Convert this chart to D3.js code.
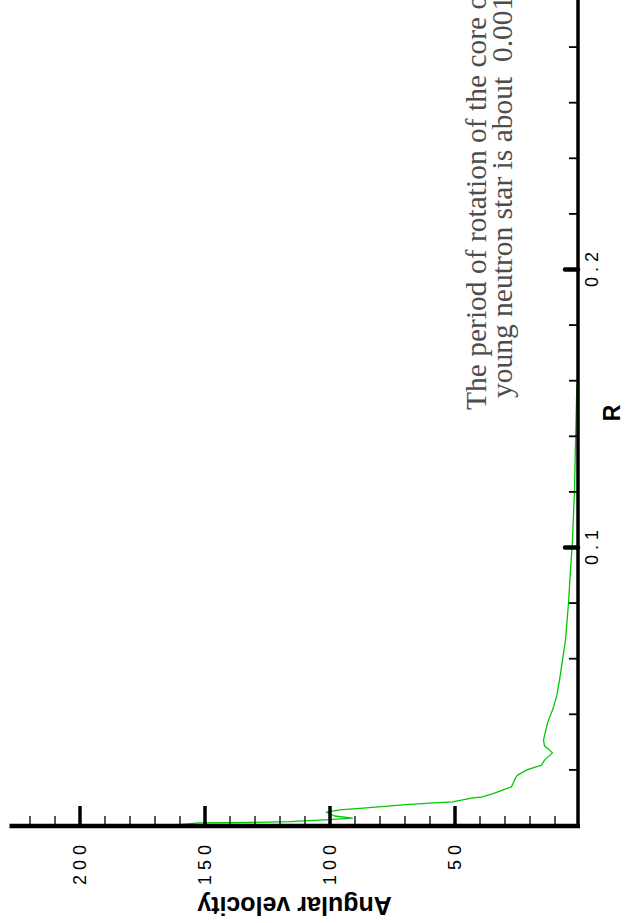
<!DOCTYPE html>
<html>
<head>
<meta charset="utf-8">
<script src="https://cdn.jsdelivr.net/npm/d3@7"></script>
<style>
  html, body { margin: 0; padding: 0; background: #fff; }
  svg { display: block; }
</style>
</head>
<body>
<svg id="chart" width="625" height="923"></svg>
<script>
// Angular velocity of the core against radius R
const radius = [0.0002, 0.0011, 0.00126, 0.0016, 0.0023, 0.0028, 0.0036, 0.0050, 0.0058, 0.0066,
                0.0076, 0.0082, 0.0087, 0.0100, 0.0105, 0.0118, 0.0129, 0.0141, 0.0173, 0.0183,
                0.0203, 0.0219, 0.0237, 0.0263, 0.0273, 0.0288, 0.0309, 0.0371, 0.0417, 0.0464,
                0.0525, 0.0597, 0.0669, 0.0802, 0.0921, 0.1029, 0.1209, 0.1378, 0.1532, 0.1586];
const omega  = [164, 152, 132, 116, 100, 90.8, 98, 101.2, 96, 84,
                70.8, 60, 50.8, 43.2, 38.8, 34, 30.8, 27.2, 25.6, 24.8,
                20.8, 15.2, 14, 10.8, 12, 14, 14.4, 12.8, 10.8, 9.2,
                8, 6.8, 5.6, 4.4, 3.6, 2.8, 2, 1.6, 1.2, 1.0];

const rMajorTicks = [0.1, 0.2];
const rMinorTicks = [0.02, 0.04, 0.06, 0.08, 0.12, 0.14, 0.16, 0.18, 0.22, 0.24, 0.26, 0.28];
const wMajorTicks = [50, 100, 150, 200];
const wMinorTicks = [10, 20, 30, 40, 60, 70, 80, 90, 110, 120, 130, 140, 160, 170, 180, 190, 210, 220];

const xTitle = "R";
const yTitle = "Angular velocity";
const noteLines = ["The period of rotation of the core of",
                   "young neutron star is about  0.001 s"];

const W = 923, H = 625;           // plot frame before turning it on its side
const svg = d3.select("#chart");
const g = svg.append("g").attr("transform", `translate(0,${W}) rotate(-90)`);

const xR = d3.scaleLinear().domain([0, (W - 97) / 2780]).range([97, W]);
const yW = d3.scaleLinear().domain([0, 228]).range([579.5, 9.5]);

const axisY0 = 578;   // position of the R axis
const axisX0 = 97;    // position of the angular-velocity axis

// curve
const pts = radius.map((r, i) => ({ r, w: omega[i] }));
g.append("path")
  .datum(pts)
  .attr("fill", "none")
  .attr("stroke", "#00c800")
  .attr("stroke-width", 1.3)
  .attr("stroke-linejoin", "round")
  .attr("d", d3.line().x(d => xR(d.r)).y(d => yW(d.w)));

// R axis: minor then major ticks, pointing inward
const rMinor = g.append("g").attr("transform", `translate(0,${axisY0})`)
  .call(d3.axisBottom(xR).tickValues(rMinorTicks).tickSize(-9).tickFormat(""));
rMinor.select(".domain").remove();
rMinor.selectAll("line").attr("stroke", "#000").attr("stroke-width", 1.8);

const rMajor = g.append("g").attr("transform", `translate(0,${axisY0})`)
  .call(d3.axisBottom(xR).tickValues(rMajorTicks).tickSize(-13).tickPadding(7)
        .tickFormat(d3.format(".1f")));
rMajor.select(".domain").remove();
rMajor.selectAll("line").attr("stroke", "#000").attr("stroke-width", 4.5).attr("stroke-linecap", "round");
rMajor.selectAll("text")
  .attr("fill", "#000")
  .attr("font-family", "'Liberation Sans', Arial, sans-serif")
  .attr("font-size", 18)
  .attr("letter-spacing", 5)
  .attr("dx", 2.5);

// angular-velocity axis
const wMinor = g.append("g").attr("transform", `translate(${axisX0},0)`)
  .call(d3.axisLeft(yW).tickValues(wMinorTicks).tickSize(-10).tickFormat(""));
wMinor.select(".domain").remove();
wMinor.selectAll("line").attr("stroke", "#222").attr("stroke-width", 1.5);

const wMajor = g.append("g").attr("transform", `translate(${axisX0},0)`)
  .call(d3.axisLeft(yW).tickValues(wMajorTicks).tickSize(-20).tickPadding(14)
        .tickFormat(d3.format("d")));
wMajor.select(".domain").remove();
wMajor.selectAll("line").attr("stroke", "#000").attr("stroke-width", 3.5);
wMajor.selectAll("text")
  .attr("fill", "#000")
  .attr("font-family", "'Liberation Sans', Arial, sans-serif")
  .attr("font-size", 18)
  .attr("letter-spacing", 5);

// axis lines
g.append("line")
  .attr("x1", axisX0 - 2).attr("x2", W)
  .attr("y1", axisY0).attr("y2", axisY0)
  .attr("stroke", "#000").attr("stroke-width", 3.5);
g.append("line")
  .attr("x1", axisX0).attr("x2", axisX0)
  .attr("y1", yW(228)).attr("y2", axisY0 + 2)
  .attr("stroke", "#000").attr("stroke-width", 4.5);

// axis titles
g.append("text")
  .attr("x", 510).attr("y", 620)
  .attr("text-anchor", "middle")
  .attr("font-family", "'Liberation Sans', Arial, sans-serif")
  .attr("font-weight", "bold")
  .attr("font-size", 23)
  .text(xTitle);

g.append("text")
  .attr("transform", `translate(26,${yW(114)}) rotate(-90)`)
  .attr("text-anchor", "middle")
  .attr("font-family", "'Liberation Sans', Arial, sans-serif")
  .attr("font-weight", "bold")
  .attr("font-size", 25)
  .text(yTitle);

// note
const noteX = [513, 525];
const noteY = [486, 512];
noteLines.forEach((t, i) => {
  g.append("text")
    .attr("x", noteX[i]).attr("y", noteY[i])
    .attr("font-family", "'Liberation Serif', 'Times New Roman', serif")
    .attr("font-size", 29.5)
    .attr("fill", "#4d4d4d")
    .attr("xml:space", "preserve")
    .style("white-space", "pre")
    .text(t);
});
</script>
</body>
</html>
